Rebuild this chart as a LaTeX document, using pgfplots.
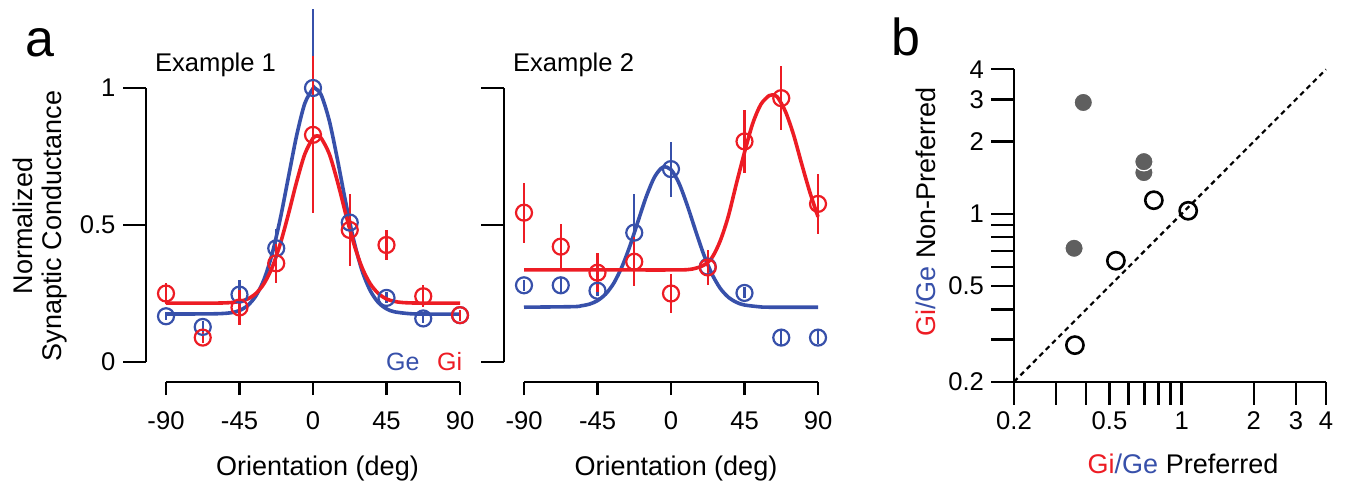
\documentclass[border=0pt]{standalone}
\usepackage{fontspec}
\setmainfont{Liberation Sans}
\usepackage{pgfplots}
\pgfplotsset{compat=1.18}

\definecolor{geblue}{RGB}{55,80,170}
\definecolor{gired}{RGB}{237,28,36}
\definecolor{dotgray}{RGB}{95,95,95}

\newcommand{\lblfont}{\fontsize{13.5}{14.5}\selectfont}
\newcommand{\tckfont}{\fontsize{12.8}{14}\selectfont}

\pgfplotsset{
  tuning/.style={
    scale only axis, width=157pt, height=147pt,
    xmin=-102.24, xmax=90, ymin=-0.073, ymax=1,
    axis x line*=bottom, axis y line*=left,
    axis line style={draw=none},
    xtick={-90,-45,0,45,90},
    ytick={0,0.5,1},
    tick align=outside,
    tick style={black, line width=1.2pt},
    xtick style={/pgfplots/major tick length=6.5pt},
    ytick style={/pgfplots/major tick length=11.5pt},
    tick label style={font=\tckfont},
    xticklabel style={yshift=-7pt},
    yticklabel style={xshift=-7.5pt},
    /pgf/number format/assume math mode=true,
    clip=false,
  },
  fitline/.style={line width=1.8pt, smooth, no marks},
  pts/.style={only marks, mark=o, mark size=4pt, line width=1.1pt,
    error bars/y dir=both, error bars/y explicit,
    error bars/error mark=none,
    error bars/error bar style={line width=1.1pt, solid}},
}
\tikzset{axisrule/.style={line width=1.2pt, black}}

\begin{document}
\begin{tikzpicture}
\useasboundingbox (0,0) rectangle (676.5pt,241.5pt);

% ---- panel a, example 1
\begin{axis}[tuning, at={(73pt,50.5pt)}, anchor=south west]
  \draw[axisrule] (axis cs:-90,-0.073) -- (axis cs:90,-0.073);
  \draw[axisrule] (axis cs:-102.24,0) -- (axis cs:-102.24,1);
  \addplot[fitline, geblue] coordinates {
    (-90,0.175) (-60,0.176) (-50,0.180) (-45,0.188) (-40,0.206) (-35,0.241)
    (-30,0.301) (-25,0.395) (-20,0.524) (-15,0.676) (-10,0.827) (-5,0.944)
    (0,0.998) (1,1.0) (5,0.975) (10,0.880) (15,0.738) (20,0.583) (25,0.443)
    (30,0.334) (35,0.261) (40,0.217) (45,0.194) (50,0.183) (60,0.176)
    (70,0.175) (90,0.175)};
  \addplot[pts, geblue] coordinates {
    (-90,0.167) +- (0,0.015)
    (-67.5,0.128) +- (0,0.02)
    (-45,0.246) +- (0,0.055)
    (-22.5,0.415) +- (0,0.07)
    (0,1.0) +- (0,0.287)
    (22.5,0.509) +- (0,0.03)
    (45,0.234) +- (0,0.02)
    (67.5,0.159) +- (0,0.015)
    (90,0.171) +- (0,0.015)};
  \addplot[fitline, gired] coordinates {
    (-90,0.215) (-60,0.215) (-50,0.217) (-45,0.221) (-40,0.230) (-35,0.250)
    (-30,0.286) (-25,0.345) (-20,0.432) (-15,0.541) (-10,0.658) (-5,0.759)
    (0,0.817) (2.5,0.825) (5,0.817) (10,0.759) (15,0.658) (20,0.541)
    (25,0.432) (30,0.345) (35,0.286) (40,0.250) (45,0.230) (50,0.221)
    (55,0.217) (65,0.215) (90,0.215)};
  \addplot[pts, gired] coordinates {
    (-90,0.25) +- (0,0.04)
    (-67.5,0.089) +- (0,0.02)
    (-45,0.199) +- (0,0.065)
    (-22.5,0.36) +- (0,0.07)
    (0,0.829) +- (0,0.287)
    (22.5,0.482) +- (0,0.13)
    (45,0.427) +- (0,0.055)
    (67.5,0.24) +- (0,0.04)
    (90,0.171) +- (0,0.02)};
\end{axis}

% ---- panel a, example 2
\begin{axis}[tuning, at={(252pt,50.5pt)}, anchor=south west, yticklabels={,,}]
  \draw[axisrule] (axis cs:-90,-0.073) -- (axis cs:90,-0.073);
  \draw[axisrule] (axis cs:-102.24,0) -- (axis cs:-102.24,1);
  \addplot[fitline, geblue] coordinates {
    (-90,0.2) (-60,0.202) (-55,0.205) (-50,0.211) (-45,0.224) (-40,0.248)
    (-35,0.288) (-30,0.348) (-25,0.426) (-20,0.517) (-15,0.606) (-10,0.676)
    (-5,0.711) (0,0.702) (5,0.651) (10,0.571) (15,0.480) (20,0.393)
    (25,0.322) (30,0.270) (35,0.237) (40,0.218) (45,0.208) (55,0.201)
    (60,0.2) (90,0.2)};
  \addplot[pts, geblue] coordinates {
    (-90,0.280) +- (0,0.02)
    (-67.5,0.280) +- (0,0.03)
    (-45,0.26) +- (0,0.02)
    (-22.5,0.472) +- (0,0.14)
    (0,0.704) +- (0,0.10)
    (22.5,0.348) +- (0,0.03)
    (45,0.252) +- (0,0.02)
    (67.5,0.089) +- (0,0.03)
    (90,0.089) +- (0,0.025)};
  \addplot[fitline, gired] coordinates {
    (-90,0.336) (-60,0.336) (-30,0.336) (0,0.336) (10,0.337) (15,0.342)
    (20,0.353) (25,0.38) (30,0.44) (35,0.53) (40,0.65) (45,0.765) (50,0.87)
    (55,0.94) (60,0.972) (62,0.975) (65,0.968) (70,0.915) (75,0.83)
    (80,0.723) (85,0.62) (90,0.53)};
  \addplot[pts, gired] coordinates {
    (-90,0.545) +- (0,0.11)
    (-67.5,0.421) +- (0,0.083)
    (-45,0.326) +- (0,0.07)
    (-22.5,0.366) +- (0,0.09)
    (0,0.25) +- (0,0.07)
    (22.5,0.345) +- (0,0.065)
    (45,0.805) +- (0,0.115)
    (67.5,0.963) +- (0,0.117)
    (90,0.577) +- (0,0.11)};
\end{axis}

% ---- panel b
\begin{axis}[at={(507pt,50.65pt)}, anchor=south west,
    scale only axis, width=156pt, height=156.2pt,
    xmode=log, ymode=log, xmin=0.2, xmax=4, ymin=0.2, ymax=4,
    axis x line*=bottom, axis y line*=left,
    axis line style={line width=1.2pt, -},
    tick align=outside, major tick length=11.5pt,
    tick style={black, line width=1.2pt},
    xtick={0.2,0.3,0.4,0.5,0.6,0.7,0.8,0.9,1,2,3,4},
    ytick={0.2,0.3,0.4,0.5,0.6,0.7,0.8,0.9,1,2,3,4},
    xticklabels={0.2,,,0.5,,,,,1,2,3,4},
    yticklabels={0.2,,,0.5,,,,,1,2,3,4},
    tick label style={font=\tckfont},
    clip=false]
  \addplot[black, line width=1.1pt, dash pattern=on 2.5pt off 2pt] coordinates {(0.2,0.2) (4,4)};
  \addplot[only marks, mark=*, mark size=4.6pt,
    mark options={fill=dotgray, draw=white, line width=0.6pt}] coordinates {
    (0.389,2.91) (0.696,1.486) (0.696,1.65) (0.356,0.719)};
  \addplot[only marks, mark=o, mark size=4.3pt, black, line width=1.3pt] coordinates {
    (0.766,1.14) (1.065,1.03) (0.532,0.638) (0.359,0.284)};
\end{axis}

% ---- labels
\node[anchor=base west, font=\fontsize{26}{28}\selectfont] at (9pt,213pt) {a};
\node[anchor=base west, font=\fontsize{26}{28}\selectfont] at (442pt,213.5pt) {b};
\node[anchor=base west, font=\tckfont] at (74pt,205.7pt) {Example 1};
\node[anchor=base west, font=\tckfont] at (253pt,205.7pt) {Example 2};
\node[anchor=base west, font=\fontsize{12.5}{14}\selectfont, text=geblue] at (189.5pt,56.5pt) {Ge};
\node[anchor=base west, font=\fontsize{12.5}{14}\selectfont, text=gired] at (215pt,56.5pt) {Gi};
\node[rotate=90, align=center, font=\lblfont] at (20pt,128.5pt) {Normalized\\Synaptic Conductance};
\node[anchor=base, font=\lblfont] at (158.75pt,4pt) {Orientation (deg)};
\node[anchor=base, font=\lblfont] at (338pt,4pt) {Orientation (deg)};
\node[anchor=base, font=\lblfont] at (591.5pt,5pt) {\textcolor{gired}{Gi}\textcolor{geblue}{/Ge} Preferred};
\node[anchor=base, rotate=90, font=\lblfont] at (467.5pt,135.5pt) {\textcolor{gired}{Gi}\textcolor{geblue}{/Ge} Non-Preferred};
\end{tikzpicture}
\end{document}
